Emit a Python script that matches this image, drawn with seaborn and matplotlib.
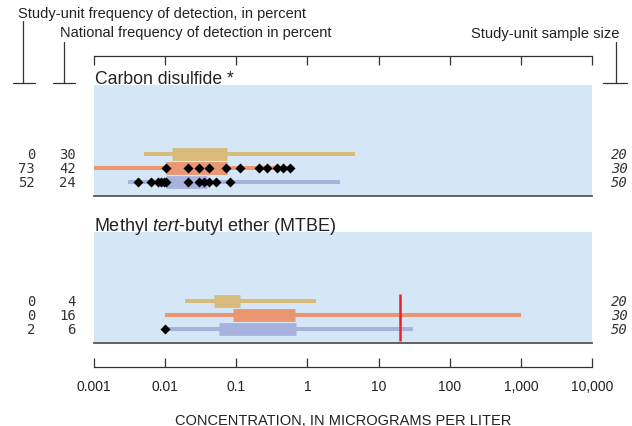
import numpy as np
import pandas as pd
import matplotlib
matplotlib.use("Agg")
import matplotlib.pyplot as plt
import seaborn as sns
from matplotlib.lines import Line2D
from matplotlib.transforms import blended_transform_factory

# ---------------- data ----------------
compounds = ["Carbon disulfide *", r"Methyl $\it{tert}$-butyl ether (MTBE)"]
series_colors = ["#D8BB7B", "#EA9670", "#A7B3DD"]
sample_size = [20, 30, 50]

cs_study_freq = [0, 73, 52]
cs_national_freq = [30, 42, 24]
cs_min = [0.005, 0.0008, 0.003]
cs_q1 = [0.0126, 0.0102, 0.0102]
cs_q3 = [0.075, 0.075, 0.039]
cs_max = [4.7, 0.60, 2.9]
cs_detect_orange = [0.0102, 0.021, 0.030, 0.041, 0.072, 0.111, 0.206, 0.27, 0.374, 0.455, 0.564]
cs_detect_blue = [0.0041, 0.0063, 0.0079, 0.0088, 0.0095, 0.0102, 0.021, 0.030, 0.035, 0.042, 0.052, 0.082]

mtbe_study_freq = [0, 0, 2]
mtbe_national_freq = [4, 16, 6]
mtbe_min = [0.0193, 0.0098, 0.0098]
mtbe_q1 = [0.048, 0.091, 0.058]
mtbe_q3 = [0.114, 0.67, 0.68]
mtbe_max = [1.30, 1000, 30.8]
mtbe_detect_blue = [0.0098]
mtbe_benchmark = 20

tick_values = [0.001, 0.01, 0.1, 1, 10, 100, 1000, 10000]
tick_labels = ["0.001", "0.01", "0.1", "1", "10", "100", "1,000", "10,000"]

# ---------------- style ----------------
sns.set_style("white")
plt.rcParams["font.family"] = ["Liberation Sans", "DejaVu Sans"]
plt.rcParams["mathtext.fontset"] = "custom"
plt.rcParams["mathtext.rm"] = "Liberation Sans"
plt.rcParams["mathtext.it"] = "Liberation Sans:italic"

W, H = 632, 427
fig = plt.figure(figsize=(W / 100, H / 100), dpi=100)


def fx(x):
    return x / W


def fy(y):
    return 1 - y / H


X0, X1 = 94, 592
BG = "#D5E7F6"
DARK = "#333333"
mono = "DejaVu Sans Mono"


def make_panel(top, bottom):
    ax = fig.add_axes([fx(X0), fy(bottom), fx(X1) - fx(X0), (bottom - top) / H])
    ax.set_facecolor(BG)
    for s in ["top", "left", "right"]:
        ax.spines[s].set_visible(False)
    ax.spines["bottom"].set_color("#555555")
    ax.spines["bottom"].set_linewidth(1.3)
    ax.set_xscale("log")
    return ax


def finish_panel(ax):
    ax.set_xlim(1e-3, 1e4)
    ax.set_ylim(3.0, -4.93)
    ax.set_xticks([])
    ax.set_xticks([], minor=True)
    ax.set_yticks([])
    ax.set_xlabel("")
    ax.set_ylabel("")


def draw_group(ax, mins, q1, q3, maxs, study, national, detects):
    rows = np.arange(len(mins))
    ax.hlines(rows, mins, maxs, colors=series_colors, linewidth=2.9, capstyle="butt", zorder=2)
    ax.hlines(rows, q1, q3, colors=series_colors, linewidth=9.2, capstyle="butt", zorder=3)
    frames = [pd.DataFrame({"value": v, "row": r}) for r, v in detects.items()]
    if frames:
        df = pd.concat(frames, ignore_index=True)
        sns.scatterplot(data=df, x="value", y="row", ax=ax, marker="D", s=26,
                        color="black", linewidth=0, legend=False, zorder=5)
    tr = blended_transform_factory(fig.transFigure, ax.transData)
    for r in rows:
        ax.text(fx(35), r, str(study[r]), transform=tr, ha="right", va="center",
                family=mono, fontsize=10, color=DARK)
        ax.text(fx(76), r, str(national[r]), transform=tr, ha="right", va="center",
                family=mono, fontsize=10, color=DARK)
        ax.text(fx(611), r, str(sample_size[r]), transform=tr, ha="left", va="center",
                family=mono, style="italic", fontsize=10, color=DARK)


# Panel 1
ax1 = make_panel(86, 197)
draw_group(ax1, cs_min, cs_q1, cs_q3, cs_max, cs_study_freq, cs_national_freq,
           {1: cs_detect_orange, 2: cs_detect_blue})
finish_panel(ax1)

# Panel 2
ax2 = make_panel(233, 344)
draw_group(ax2, mtbe_min, mtbe_q1, mtbe_q3, mtbe_max, mtbe_study_freq, mtbe_national_freq,
           {2: mtbe_detect_blue})
ax2.vlines(mtbe_benchmark, -0.5, 2.83, colors="#E8202A", linewidth=1.8, zorder=6)
finish_panel(ax2)

# titles
fig.text(fx(95), fy(80), compounds[0], ha="left", va="center", fontsize=12.7, color="#222222")
fig.text(fx(93.5), fy(226.7), compounds[1], ha="left", va="center", fontsize=13, color="#222222")

# top scale
axT = fig.add_axes([fx(X0), fy(70), fx(X1) - fx(X0), (70 - 56.5) / H])
axT.patch.set_visible(False)
for s in ["bottom", "left", "right"]:
    axT.spines[s].set_visible(False)
axT.spines["top"].set_color(DARK)
axT.spines["top"].set_linewidth(0.9)
axT.set_xscale("log")
axT.set_xlim(1e-3, 1e4)
axT.set_xticks(tick_values)
axT.set_xticks([], minor=True)
axT.set_yticks([])
axT.tick_params(axis="x", which="major", top=True, bottom=False, direction="in",
                length=6.5, width=0.9, color=DARK, labeltop=False, labelbottom=False)

# bottom scale
axB = fig.add_axes([fx(X0), fy(368), fx(X1) - fx(X0), 12 / H])
axB.patch.set_visible(False)
for s in ["top", "left", "right"]:
    axB.spines[s].set_visible(False)
axB.spines["bottom"].set_color(DARK)
axB.spines["bottom"].set_linewidth(0.9)
axB.set_xscale("log")
axB.set_xlim(1e-3, 1e4)
axB.set_xticks(tick_values)
axB.set_xticklabels(tick_labels)
axB.set_xticks([], minor=True)
axB.set_yticks([])
axB.tick_params(axis="x", which="major", bottom=True, direction="in", length=6.5,
                width=0.9, color=DARK, labelsize=10, labelcolor="#222222", pad=9)
axB.set_xlabel("CONCENTRATION, IN MICROGRAMS PER LITER", fontsize=10.5,
               color="#222222", labelpad=14)

# column headers
fig.text(fx(18), fy(14), "Study-unit frequency of detection, in percent",
         ha="left", va="center", fontsize=10.5, color="#222222")
fig.text(fx(59.5), fy(33.5), "National frequency of detection in percent",
         ha="left", va="center", fontsize=10.5, color="#222222")
fig.text(fx(619), fy(34), "Study-unit sample size",
         ha="right", va="center", fontsize=10.5, color="#222222")

# bracket leaders
def leader(x, ytop, ybot, xl, xr):
    fig.add_artist(Line2D([fx(x), fx(x)], [fy(ytop), fy(ybot)], transform=fig.transFigure,
                          color=DARK, linewidth=0.9))
    fig.add_artist(Line2D([fx(xl), fx(xr)], [fy(ybot), fy(ybot)], transform=fig.transFigure,
                          color=DARK, linewidth=0.9))


leader(23.3, 21.7, 84.3, 12.7, 35)
leader(64.3, 43, 84.3, 52.7, 75)
leader(615.7, 43, 84.3, 603, 627)

fig.savefig("out.png", dpi=100)
